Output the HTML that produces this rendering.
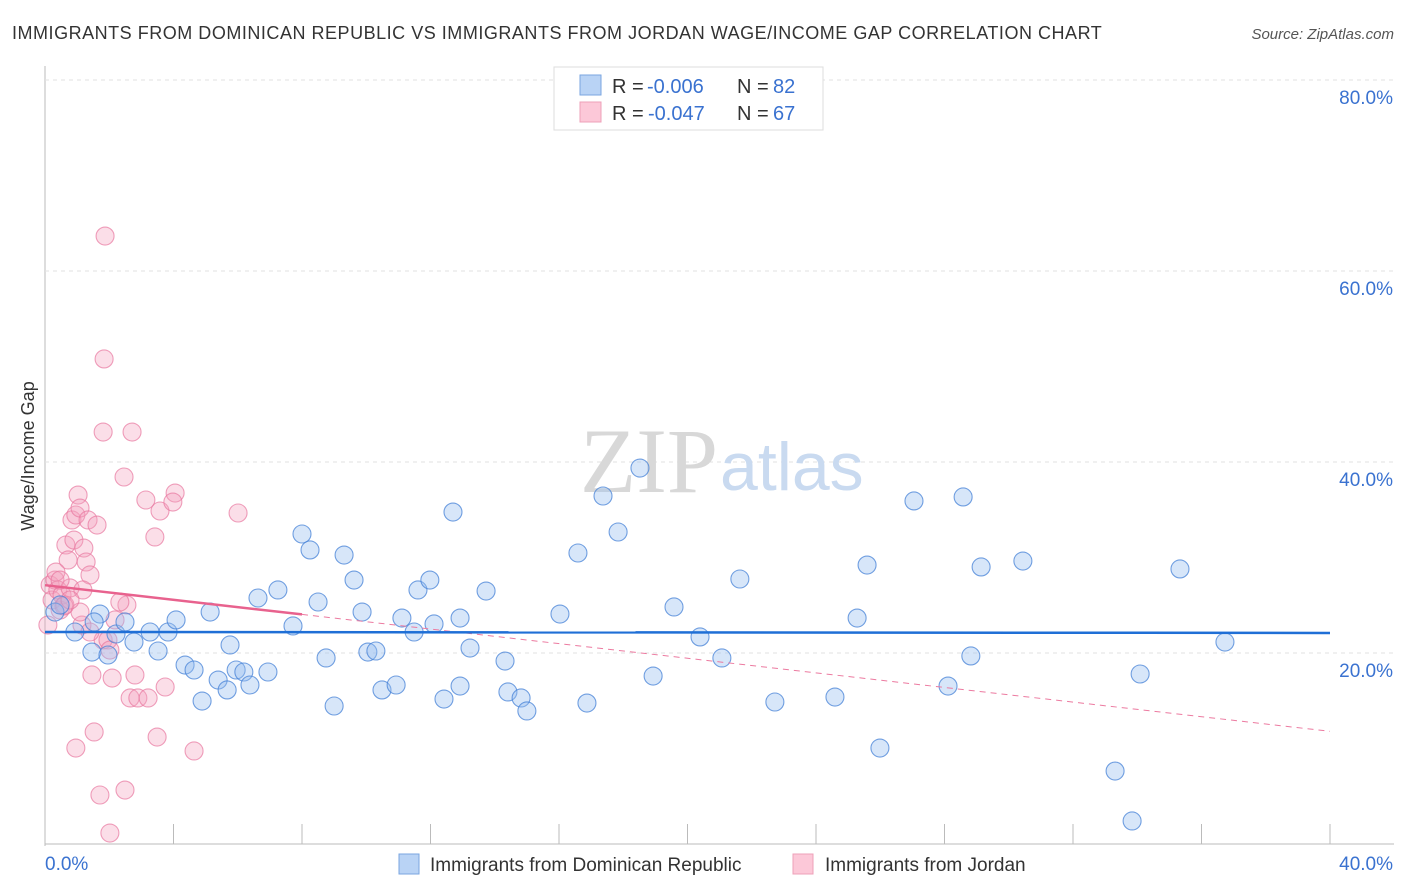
<!DOCTYPE html>
<html><head><meta charset="utf-8"><style>
body{margin:0;background:#fff;font-family:"Liberation Sans",sans-serif;}
#wrap{position:relative;width:1406px;height:892px;overflow:hidden;}
</style></head><body>
<div id="wrap">
<svg id="chart" width="1406" height="892" xmlns="http://www.w3.org/2000/svg">
<text x="12" y="39" font-size="18" fill="#333" letter-spacing="0.52">IMMIGRANTS FROM DOMINICAN REPUBLIC VS IMMIGRANTS FROM JORDAN WAGE/INCOME GAP CORRELATION CHART</text>
<text x="1394" y="39" font-size="15" fill="#555" font-style="italic" text-anchor="end">Source: ZipAtlas.com</text>
<text x="34" y="456" font-size="18" fill="#333" text-anchor="middle" transform="rotate(-90 34 456)">Wage/Income Gap</text>
<g id="grid"></g>
<text x="718" y="492" font-size="92" fill="#d8d8d8" text-anchor="end" font-family="Liberation Serif,serif">ZIP</text>
<text x="720" y="490" font-size="68" fill="#c9daf0">atlas</text>
<g id="marks"></g>
<g>
<rect x="554" y="67" width="269" height="63" fill="#fff" stroke="#ddd"/>
<rect x="580" y="75" width="21" height="20" fill="#b9d3f5" stroke="#7aa6e0"/>
<rect x="580" y="102" width="21" height="20" fill="#fcc8d8" stroke="#eea0b8"/>
<text x="612" y="93" font-size="20" fill="#333">R =</text>
<text x="647" y="93" font-size="20" fill="#3a72d0">-0.006</text>
<text x="737" y="93" font-size="20" fill="#333">N =</text>
<text x="773" y="93" font-size="20" fill="#3a72d0">82</text>
<text x="612" y="120" font-size="20" fill="#333">R =</text>
<text x="648" y="120" font-size="20" fill="#3a72d0">-0.047</text>
<text x="737" y="120" font-size="20" fill="#333">N =</text>
<text x="773" y="120" font-size="20" fill="#3a72d0">67</text>
</g>
<g>
<rect x="399" y="854" width="20" height="20" fill="#b9d3f5" stroke="#7aa6e0"/>
<text x="430" y="871" font-size="19" fill="#333">Immigrants from Dominican Republic</text>
<rect x="793" y="854" width="20" height="20" fill="#fcc8d8" stroke="#eea0b8"/>
<text x="825" y="871" font-size="19" fill="#333">Immigrants from Jordan</text>
</g>
</svg>
</div>
<script>
const yTicks=[20,40,60,80];
const yTickLabels=["20.0%","40.0%","60.0%","80.0%"];
const xTicks=[0,4,8,12,16,20,24,28,32,36,40];
const xEndLabels=["0.0%","40.0%"];
const blueX=[0.31,0.47,0.93,1.46,1.71,1.96,2.21,2.49,2.77,3.27,3.52,3.83,4.08,4.36,4.64,4.89,5.14,5.39,5.67,5.95,6.19,6.38,6.63,6.94,7.25,7.72,8.00,8.25,8.50,8.75,9.00,9.31,9.62,9.87,10.05,10.30,10.49,10.93,11.11,11.49,11.61,11.98,12.11,12.42,12.70,12.92,13.23,13.73,14.32,14.41,14.82,15.00,16.03,16.59,16.87,17.37,17.84,18.52,18.93,19.58,20.39,21.07,21.63,22.72,24.59,25.28,25.59,25.99,27.05,28.11,28.58,28.82,29.14,30.44,33.31,33.84,34.09,35.33,36.73,1.53,5.76,12.92];
const blueY=[24.29,25.03,22.20,20.10,24.08,19.79,21.99,23.25,21.15,22.20,20.21,22.20,23.46,18.74,18.22,14.97,24.29,17.17,16.13,18.22,18.01,16.65,25.76,18.01,26.60,22.83,32.46,30.79,25.34,19.48,14.45,30.26,27.64,24.29,20.10,20.21,16.13,16.65,23.66,22.20,26.60,27.64,23.04,15.18,34.76,16.54,20.52,26.49,19.16,15.92,15.29,13.93,24.08,30.47,14.76,36.44,32.67,39.37,17.59,24.82,21.68,19.48,27.75,14.87,15.39,23.66,29.21,10.05,35.92,16.54,36.34,19.69,29.01,29.63,7.64,2.41,17.80,28.80,21.15,23.25,20.84,23.66];
const pinkX=[0.16,0.22,0.31,0.40,0.47,0.53,0.62,0.09,0.65,0.72,0.78,0.84,0.90,0.96,1.03,1.09,1.15,1.21,1.28,1.34,1.40,1.46,1.53,1.62,1.71,1.81,1.87,1.96,2.02,2.09,2.18,2.49,2.55,2.65,2.71,1.81,1.84,2.46,2.80,2.89,3.14,3.21,3.42,3.49,3.58,3.74,4.05,3.98,4.64,6.01,0.96,0.59,1.09,1.18,1.40,0.78,0.34,0.47,2.33,2.02];
const pinkY=[27.12,25.55,27.64,26.60,24.50,26.07,25.03,22.93,31.31,29.74,26.81,33.93,31.83,34.45,36.54,35.18,22.93,30.99,29.53,33.93,28.17,17.70,11.73,33.40,5.13,21.36,63.66,21.36,1.15,17.38,23.46,5.65,25.03,15.29,43.14,43.14,50.79,38.43,17.70,15.29,36.02,15.29,32.15,11.20,34.87,16.44,36.75,35.81,9.74,34.66,10.05,24.92,24.29,26.60,22.20,25.55,28.48,27.64,25.34,20.31];
const blueTrend=[22.2,22.1];
const pinkTrend=[27.1,11.8];
const pinkSolidEnd=8;

const X0=45,X1=1330,Y0=844,Y80=80;
const sx=v=>X0+(X1-X0)*v/40;
const sy=v=>Y0-(Y0-Y80)*v/80;
const NS="http://www.w3.org/2000/svg";
function mk(tag,attrs,parent){const e=document.createElementNS(NS,tag);for(const k in attrs)e.setAttribute(k,attrs[k]);parent.appendChild(e);return e;}
const grid=document.getElementById('grid'),marks=document.getElementById('marks');
let a=mk('line',{x1:X0,y1:Y80-14,x2:X0,y2:Y0+2,stroke:'#bbb'},grid);


a=mk('line',{x1:X0,y1:Y0,x2:1394,y2:Y0,stroke:'#bbb'},grid);


yTicks.forEach((t,i)=>{
  const g=mk('line',{x1:X0,y1:sy(t),x2:1394,y2:sy(t),stroke:'#e2e2e2','stroke-dasharray':'4,4'},grid);
  
  
  const l=mk('text',{x:1393,y:sy(t)+24,'font-size':19,fill:'#3a72d0','text-anchor':'end'},grid);
  l.textContent=yTickLabels[i];
  
  
});
xTicks.forEach(t=>{
  if(t===0)return;
  const k=mk('line',{x1:sx(t),y1:Y0-20,x2:sx(t),y2:Y0,stroke:'#bbb'},grid);
  
  
});
let xl=mk('text',{x:45,y:870,'font-size':19,fill:'#3a72d0'},grid);xl.textContent=xEndLabels[0];


xl=mk('text',{x:1393,y:870,'font-size':19,fill:'#3a72d0','text-anchor':'end'},grid);xl.textContent=xEndLabels[1];



pinkX.forEach((v,i)=>{
  const c=mk('circle',{cx:sx(v),cy:sy(pinkY[i]),r:9,fill:'rgba(244,160,190,0.35)',stroke:'rgba(232,120,160,0.7)','stroke-width':1.1},marks);
  
  
});
blueX.forEach((v,i)=>{
  const c=mk('circle',{cx:sx(v),cy:sy(blueY[i]),r:9,fill:'rgba(150,190,240,0.38)',stroke:'rgba(70,130,215,0.75)','stroke-width':1.1},marks);
  
  
});
const py=x=>pinkTrend[0]+(pinkTrend[1]-pinkTrend[0])*x/40;
let t=mk('line',{x1:sx(pinkSolidEnd),y1:sy(py(pinkSolidEnd)),x2:sx(40),y2:sy(py(40)),stroke:'#ec7aa0','stroke-width':1,'stroke-dasharray':'6,5'},marks);


t=mk('line',{x1:sx(0),y1:sy(py(0)),x2:sx(pinkSolidEnd),y2:sy(py(pinkSolidEnd)),stroke:'#e8628e','stroke-width':2.5},marks);


t=mk('line',{x1:sx(0),y1:sy(blueTrend[0]),x2:sx(40),y2:sy(blueTrend[1]),stroke:'#1f6fd6','stroke-width':2.5},marks);


</script>
</body></html>
